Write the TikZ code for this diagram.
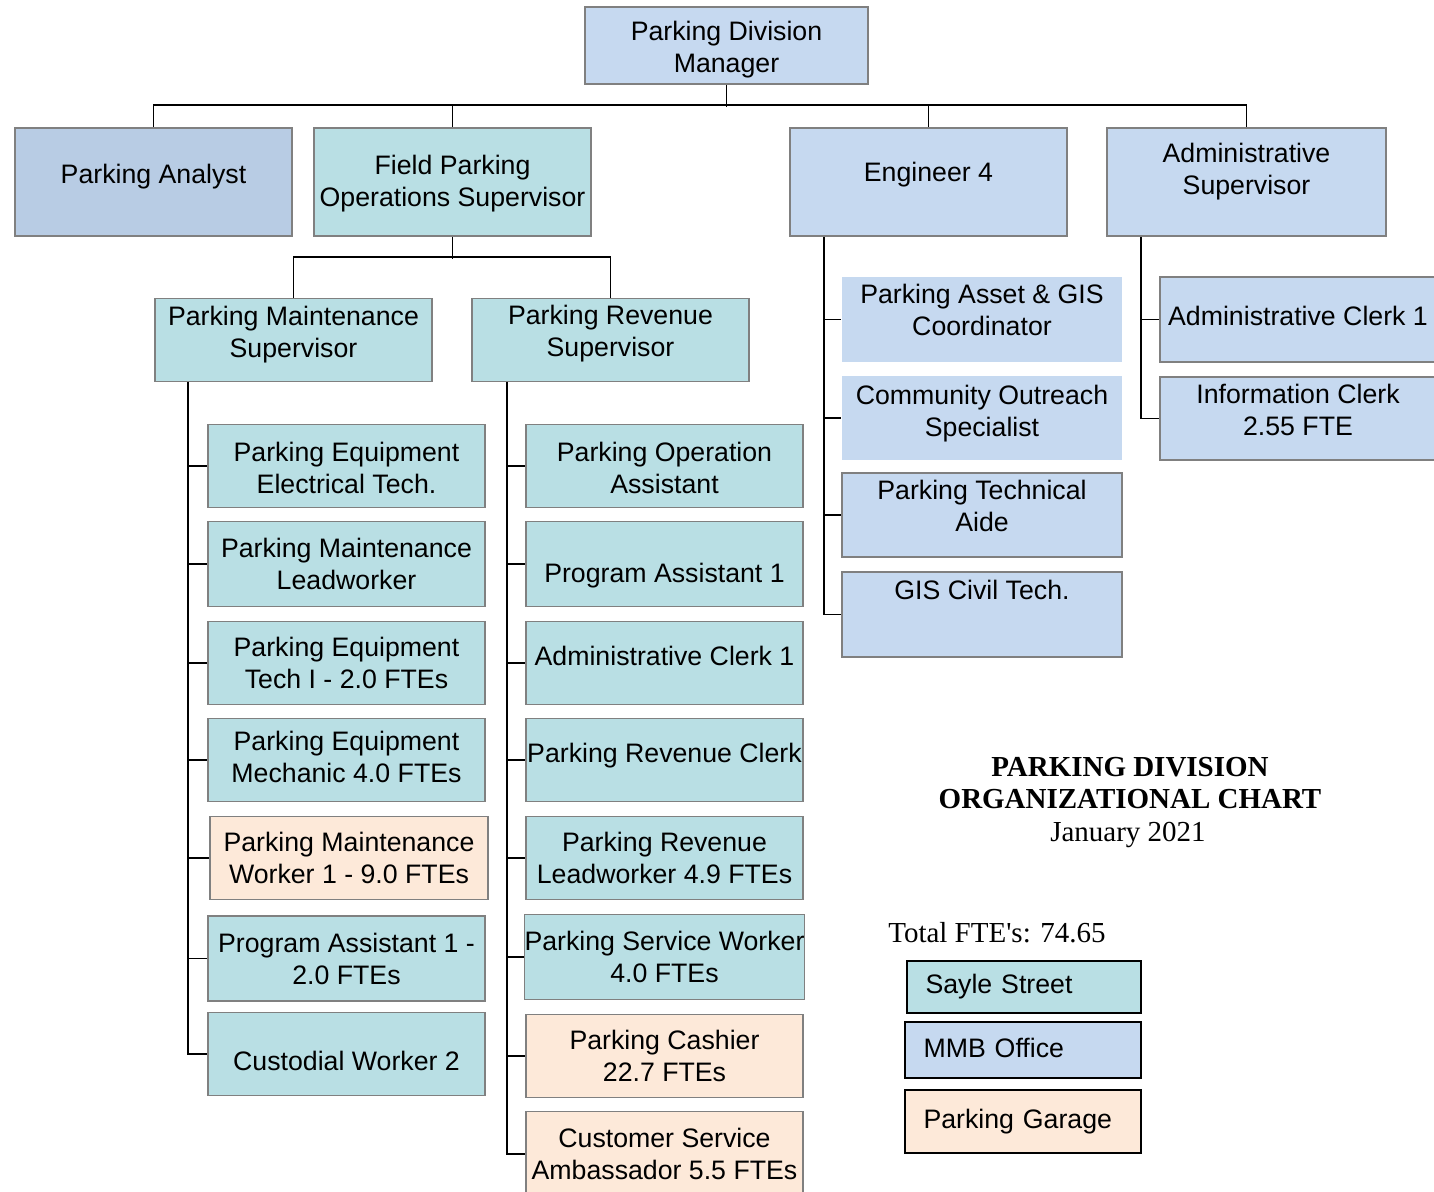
\documentclass[tikz,border=0pt]{standalone}
\usepackage{fontspec}
\setmainfont{Liberation Serif}
\newfontfamily\arialish{Liberation Sans}
\definecolor{sayle}{HTML}{B9DFE4}
\definecolor{mmb}{HTML}{C6D9F0}
\definecolor{analystblue}{HTML}{B8CCE4}
\definecolor{garagefill}{HTML}{FDE9D9}
\definecolor{boxline}{HTML}{808080}
% shift box text up (or down) without changing the box
\newcommand{\lift}[2]{\raisebox{#1}[\height][\depth]{\begin{tabular}{@{}c@{}}#2\end{tabular}}}

\begin{document}
\begin{tikzpicture}[x=0.02cm, y=-0.02cm,
  every node/.style={font=\arialish\fontsize{15.2}{18.2}\selectfont},
  post/.style={draw=boxline, line width=1pt, align=center, inner sep=0pt,
    minimum width=5.54cm, minimum height=1.66cm},
  street/.style={post, fill=sayle},
  office/.style={post, fill=mmb},
  garage/.style={post, fill=garagefill},
  bare/.style={draw=none},
  link/.style={line width=1.1pt},
  swatch/.style={draw=black, line width=1.1pt, inner xsep=0.37cm, inner ysep=0pt, align=left},
  heading/.style={font=\fontsize{16.5}{18.2}\selectfont, align=center}]
  \useasboundingbox (0,0) rectangle (1434,1192);

  % top of the chart
  \node[office, minimum width=5.66cm, minimum height=1.54cm] (mgr) at (726.5,45.5) {\lift{-2.5pt}{Parking Division\\Manager}};
  \node[post, fill=analystblue, minimum height=2.16cm] (analyst) at (153.5,182) {\lift{2.8pt}{Parking Analyst}};
  \node[street, minimum height=2.16cm] (field) at (452.5,182) {\lift{-1pt}{Field Parking\\Operations Supervisor}};
  \node[office, minimum height=2.16cm] (eng) at (928.5,182) {\lift{4pt}{Engineer 4}};
  \node[office, minimum width=5.58cm, minimum height=2.16cm] (admsup) at (1246.5,182) {\lift{5.5pt}{Administrative\\Supervisor}};

  % field supervisors
  \node[street] (mntsup) at (293.5,340) {\lift{2.8pt}{Parking Maintenance\\Supervisor}};
  \node[street] (revsup) at (610.5,340) {\lift{3.5pt}{Parking Revenue\\Supervisor}};

  % maintenance staff
  \node[street] (pet) at (346.5,466) {\lift{-3pt}{Parking Equipment\\Electrical Tech.}};
  \node[street, minimum height=1.7cm] (pml) at (346.5,564) {Parking Maintenance\\Leadworker};
  \node[street] (pti) at (346.5,663) {Parking Equipment\\Tech I - 2.0 FTEs};
  \node[street] (pem) at (346.5,760) {\lift{0pt}{Parking Equipment\\Mechanic 4.0 FTEs}};
  \node[garage, minimum width=5.56cm] (pmw) at (349,858) {Parking Maintenance\\Worker 1 - 9.0 FTEs};
  \node[street, minimum height=1.7cm] (pa2) at (346.5,958.5) {Program Assistant 1 -\\2.0 FTEs};
  \node[street] (cw2) at (346.5,1054) {\lift{-6pt}{Custodial Worker 2}};

  % revenue staff
  \node[street] (poa) at (664.5,466) {\lift{-3pt}{Parking Operation\\Assistant}};
  \node[street, minimum height=1.7cm] (pa1) at (664.5,564) {\lift{-6.7pt}{Program Assistant 1}};
  \node[street] (ac1) at (664.5,663) {\lift{2pt}{Administrative Clerk 1}};
  \node[street] (prc) at (664.5,760) {\lift{2pt}{Parking Revenue Clerk}};
  \node[street] (prl) at (664.5,858) {Parking Revenue\\Leadworker 4.9 FTEs};
  \node[street, minimum height=1.7cm] (psw) at (664.5,957) {Parking Service Worker\\4.0 FTEs};
  \node[garage] (pcs) at (664.5,1056) {Parking Cashier\\22.7 FTEs};
  \node[garage, minimum height=1.7cm] (csa) at (664.5,1154) {Customer Service\\Ambassador 5.5 FTEs};

  % engineer staff
  \node[office, bare, minimum width=5.6cm, minimum height=1.7cm] (gis) at (982,319.5) {\lift{3.8pt}{Parking Asset \& GIS\\Coordinator}};
  \node[office, bare, minimum width=5.6cm, minimum height=1.68cm] (cos) at (982,418) {\lift{2.3pt}{Community Outreach\\Specialist}};
  \node[office, minimum width=5.6cm, minimum height=1.68cm] (pta) at (982,515) {\lift{3.3pt}{Parking Technical\\Aide}};
  \node[office, minimum width=5.6cm, minimum height=1.7cm] (gct) at (982,614.5) {\lift{12.3pt}{GIS Civil Tech.}};

  % administrative staff
  \node[office, minimum width=5.52cm, minimum height=1.7cm] (ac1b) at (1298,319.5) {\lift{0pt}{Administrative Clerk 1}};
  \node[office, minimum width=5.52cm, minimum height=1.66cm] (icl) at (1298,418.5) {\lift{3.1pt}{Information Clerk\\2.55 FTE}};

  % connectors
  \draw[link] (mgr.south) -- ++(0,22);
  \draw[link] (analyst.north) -- ++(0,-22) -| (admsup.north);
  \foreach \n in {field,eng}
    \draw[link] (\n.north) -- ++(0,-22);
  \draw[link] (field.south) -- ++(0,22);
  \draw[link] (mntsup.north) -- ++(0,-41) -| (revsup.north);

  \coordinate (lspine) at (188,0);
  \coordinate (rspine) at (507,0);
  \coordinate (espine) at (824,0);
  \coordinate (aspine) at (1141,0);
  \draw[link] (mntsup.south -| lspine) |- (cw2.west);
  \foreach \n in {pet,pml,pti,pem,pmw,pa2}
    \draw[link] (\n.west -| lspine) -- (\n.west);
  \draw[link] (revsup.south -| rspine) |- (csa.west);
  \foreach \n in {poa,pa1,ac1,prc,prl,psw,pcs}
    \draw[link] (\n.west -| rspine) -- (\n.west);
  \draw[link] (eng.south -| espine) |- (gct.west);
  \foreach \n in {gis,cos,pta}
    \draw[link] (\n.west -| espine) -- (\n.west);
  \draw[link] (admsup.south -| aspine) |- (icl.west);
  \draw[link] (ac1b.west -| aspine) -- (ac1b.west);

  % title and legend
  \node[heading, font=\bfseries\fontsize{16.5}{18.2}\selectfont] (head) at (1130,783) {PARKING DIVISION\\ORGANIZATIONAL CHART};
  \node[heading] (date) at (1128,835) {January 2021};
  \node[heading] (total) at (997,933) {Total FTE\textquotesingle s: 74.65};
  \node[swatch, fill=sayle, text width=3.94cm, minimum height=1.04cm] (kstreet) at (1024,987) {Sayle Street};
  \node[swatch, fill=mmb, text width=3.98cm, minimum height=1.12cm] (koffice) at (1023,1050) {\raisebox{2pt}{MMB Office}};
  \node[swatch, fill=garagefill, text width=3.98cm, minimum height=1.26cm] (kgarage) at (1023,1121.5) {\raisebox{1.5pt}{Parking Garage}};
\end{tikzpicture}
\end{document}
